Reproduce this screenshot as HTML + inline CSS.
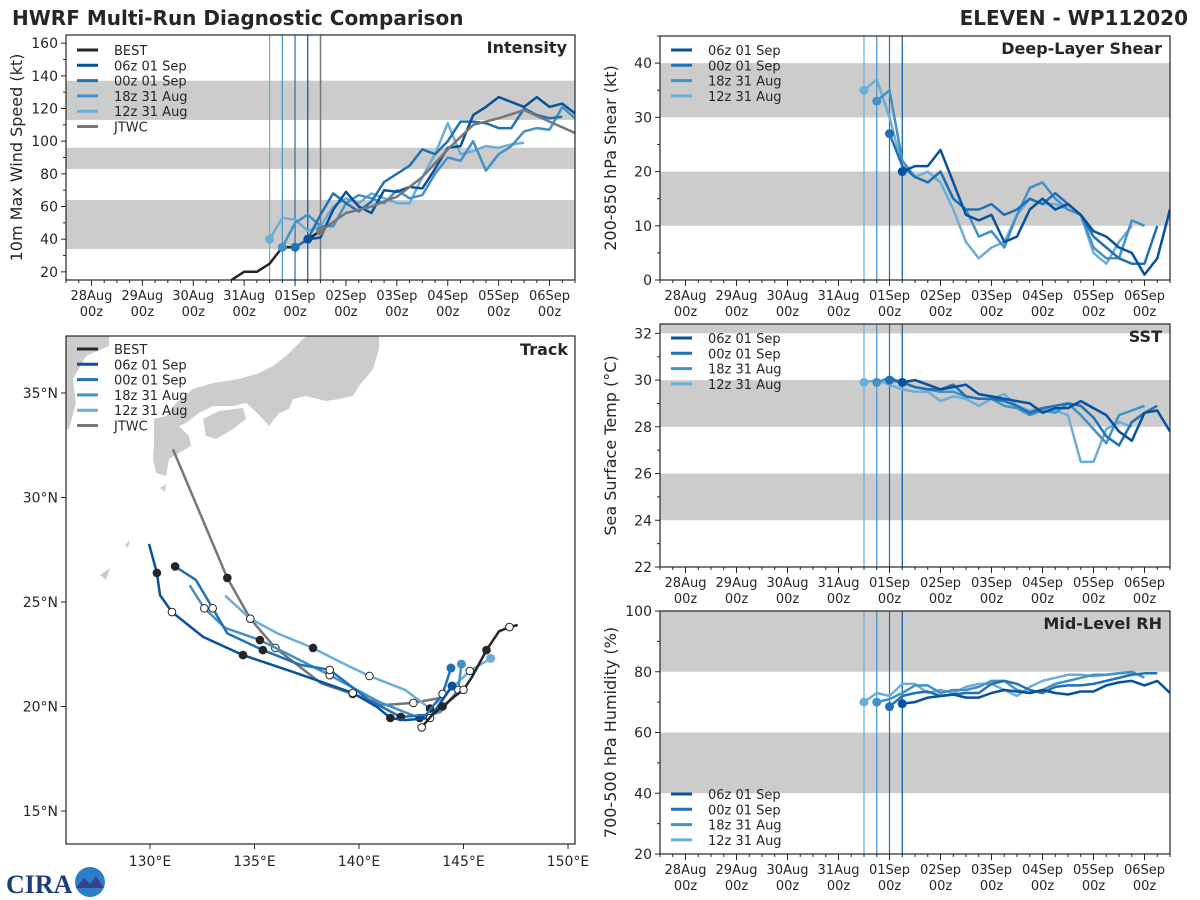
<!DOCTYPE html>
<html><head><meta charset="utf-8"><style>
body{margin:0;background:#fff;}
svg{display:block;font-family:"DejaVu Sans","Liberation Sans",sans-serif;}
</style></head><body>
<svg id="c" width="1200" height="900" viewBox="0 0 1200 900">
<text x="12" y="25" font-size="20" font-weight="bold" fill="#262626">HWRF Multi-Run Diagnostic Comparison</text>
<text x="1188" y="25" font-size="20" font-weight="bold" fill="#262626" text-anchor="end">ELEVEN - WP112020</text>
<g>
<text x="6" y="893" font-size="26" font-weight="bold" fill="#1f3c7a" font-family="Liberation Serif,serif">CIRA</text>
<circle cx="90" cy="882" r="15" fill="#2a7fc8"/>
<path d="M76 888 L84 878 L90 884 L96 876 L104 888 Z" fill="#3a3f8a"/>
</g>
</svg>
<script>
const S='http://www.w3.org/2000/svg';
const svg=document.getElementById('c');
const runNames=['06z 01 Sep','00z 01 Sep','18z 31 Aug','12z 31 Aug'];
const runColors=['#08519c','#2171b5','#4292c6','#6baed6'];
const runStarts=[4.25,4.0,3.75,3.5];
const dayLabels=['28Aug','29Aug','30Aug','31Aug','01Sep','02Sep','03Sep','04Sep','05Sep','06Sep'];
// Intensity data (kt)
const bestDays=[2.75,3.0,3.25,3.5,3.75,4.0,4.25,4.5];
const bestVmax=[15,20,20,25,35,35,40,45];
const jtwcDays=[4.5,5.0,5.5,6.0,6.5,7.0,7.5,8.0,8.5,9.0,9.5];
const jtwcVmax=[45,56,60,66,78,95,110,114,119,112,105];
const vmax06=[40,41,58,69,60,56,70,69,72,71,83,96,97,116,121,127,124,121,127,121,123,117];
const vmax00=[35,40,55,68,62,57,63,75,80,85,95,92,100,112,112,111,108,108,120,116,114,115];
const vmax18=[35,50,55,48,48,62,67,65,62,70,65,67,80,90,88,100,82,92,97,106,108,107,121,114];
const vmax12=[40,53,52,45,48,60,65,62,68,65,62,62,78,92,111,92,94,97,96,98,99];
// Shear (kt)
const shear06=[20,21,21,24,18,12,11,12,7,8,13,15,13,14,12,9,8,6,5,1,4,13];
const shear00=[27,21,19,18,20,15,13,13,14,12,13,15,14,16,14,12,8,6,4,3,3,10];
const shear18=[33,35,22,19,18,20,15,13,8,9,6,12,17,18,15,13,12,6,4,4,11,10];
const shear12=[35,37,30,21,19,20,18,13,7,4,6,7,12,15,14,14,13,12,5,3,7,10];
// SST (C)
const sst06=[29.9,30.0,29.8,29.6,29.7,29.8,29.4,29.3,29.2,29.1,29.0,28.6,28.8,28.8,29.1,28.8,28.5,27.8,27.4,28.6,28.7,27.8];
const sst00=[30.0,29.9,29.7,29.6,29.6,29.8,29.3,29.2,29.2,29.1,28.9,28.6,28.8,28.9,29.0,28.9,28.4,27.6,27.2,28.2,28.6,28.9];
const sst18=[29.9,30.1,29.9,29.7,29.6,29.5,29.5,29.3,29.2,29.2,28.9,28.8,28.5,28.7,28.6,29.0,28.5,27.9,27.3,28.5,28.7,28.9];
const sst12=[29.9,30.0,29.8,29.6,29.5,29.5,29.1,29.3,29.2,28.9,29.2,29.4,28.9,28.7,28.8,28.7,28.5,26.5,26.5,27.9,28.2,28.0];
// RH (%)
const rh06=[69.5,70,71.5,72,72.5,71.5,71.5,73,74,73.5,73,74,73,72.5,73.5,73.5,75.5,76.5,77,75.5,77,73];
const rh00=[68.5,72,73,73.5,72,72.5,73,73,76,77,76,74,73,75,75.5,75.5,76,77,78,79,79.5,79.5];
const rh18=[70,71,73,75.5,75.5,73,74,74,75,77,77,74,73,74,76,77,78,79,79,79.5,80,78];
const rh12=[70,73,72,76,76,73,74,73,75,76,76,74,72,75,77,78,79,79,78.5,79,79.5,79.5];
// Tracks (lon, lat)
const bestLon=[147.6,147.2,146.7,146.1,145.4,145.0,144.6,144.0,143.5,143.0];
const bestLat=[23.9,23.8,23.6,22.7,21.4,20.8,20.5,20.0,19.6,19.0];
const trk06Lon=[144.45,143.4,142.2,141.5,140.86,139.7,137.0,134.45,132.54,131.05,130.48,130.33,129.95];
const trk06Lat=[20.98,19.45,19.35,19.45,19.98,20.65,21.6,22.46,23.33,24.52,25.33,26.39,27.78];
const trk00Lon=[144.4,144.0,143.2,142.0,140.5,138.6,137.2,135.4,133.7,133.0,132.2,131.2];
const trk00Lat=[21.84,20.6,19.6,19.5,20.3,21.75,21.99,22.7,23.5,24.7,26.05,26.7];
const trk18Lon=[144.9,144.75,143.9,142.9,141.0,138.6,136.7,135.26,133.6,132.6,131.9];
const trk18Lat=[22.03,20.8,19.74,19.45,20.2,21.5,22.46,23.18,23.76,24.7,25.8];
const trk12Lon=[146.3,145.3,144.35,143.4,142.2,140.5,139.2,137.8,136.1,134.8,133.6];
const trk12Lat=[22.3,21.7,20.79,19.9,20.8,21.46,22.08,22.8,23.5,24.2,25.3];
const jtwcLon=[144.1,142.6,141.2,139.7,138.2,136.0,134.8,133.7,131.1];
const jtwcLat=[20.45,20.17,20.07,20.6,21.1,22.8,24.2,26.15,32.3];

function el(t,a,p){const e=document.createElementNS(S,t);for(const k in a)e.setAttribute(k,a[k]);(p||svg).appendChild(e);return e;}
function txt(x,y,s,a,p){const e=el('text',Object.assign({x:x,y:y,'font-size':13,fill:'#262626'},a||{}),p);e.textContent=s;return e;}

function panel(o){
  const g=el('g',{});
  
  
  const X=d=>o.x0+(d-(-0.5))/10*(o.x1-o.x0);
  const Y=v=>o.y1-(v-o.vmin)/(o.vmax-o.vmin)*(o.y1-o.y0);
  o.bands.forEach(b=>{const r=el('rect',{x:o.x0,y:Y(Math.min(b[1],o.vmax)),width:o.x1-o.x0,height:Y(b[0])-Y(Math.min(b[1],o.vmax)),fill:'#cccccc'},g);
    });
  for(let v=o.tmin;v<=o.vmax+1e-6;v+=o.tstep){const y=Y(v);el('line',{x1:o.x0-5,x2:o.x0,y1:y,y2:y,stroke:'#262626'},g);
    const t=txt(o.x0-8,y+5,String(v),{'text-anchor':'end','font-size':14},g);}
  for(let v=o.tmin-o.tstep/2;v<=o.vmax;v+=o.tstep){if(v<o.vmin)continue;const y=Y(v);el('line',{x1:o.x0-3,x2:o.x0,y1:y,y2:y,stroke:'#262626'},g);}
  for(let d=-0.5;d<=9.5;d+=0.25){const x=X(d);const maj=Math.abs(d-Math.round(d))<1e-6;el('line',{x1:x,x2:x,y1:o.y1,y2:o.y1+(maj?6:3),stroke:'#262626'},g);}
  dayLabels.forEach((l,i)=>{const x=X(i);const t=txt(x,o.y1+20,l,{'text-anchor':'middle'},g);
    txt(x,o.y1+36,'00z',{'text-anchor':'middle'},g);});
  const yl=txt(0,0,o.ylabel,{'font-size':16,'text-anchor':'middle',transform:`translate(${o.x0-44},${(o.y0+o.y1)/2}) rotate(-90)`},g);
  
  runStarts.forEach((s,i)=>{const l=el('line',{x1:X(s),x2:X(s),y1:o.y0,y2:o.y1,stroke:runColors[i],'stroke-width':1.2},g);});
  if(o.jtwcLine){el('line',{x1:X(4.5),x2:X(4.5),y1:o.y0,y2:o.y1,stroke:'#777','stroke-width':1.5},g);}
  const clip='clip'+o.name;const cp=el('clipPath',{id:clip},g);el('rect',{x:o.x0,y:o.y0,width:o.x1-o.x0,height:o.y1-o.y0},cp);
  const lg=el('g',{'clip-path':`url(#${clip})`},g);
  function series(days,vals,col,nm,dot){const pts=vals.map((v,i)=>X(days[i]).toFixed(1)+','+Y(v).toFixed(1)).join(' ');
    const p=el('polyline',{points:pts,fill:'none',stroke:col,'stroke-width':2.5,'stroke-linejoin':'round'},lg);
    
    if(dot){el('circle',{cx:X(days[0]),cy:Y(vals[0]),r:4.5,fill:col},lg);}}
  if(o.best){series(bestDays,bestVmax,'#262626','best-line',false);}
  o.runs.slice().reverse().forEach((vals,ri)=>{const i=3-ri;series(vals.map((_,k)=>runStarts[i]+k*0.25),vals,runColors[i],'run-'+runNames[i].replace(/ /g,'-').toLowerCase(),true);});
  if(o.jtwc){series(jtwcDays,jtwcVmax,'#777777','jtwc-line',true);}
  el('rect',{x:o.x0,y:o.y0,width:o.x1-o.x0,height:o.y1-o.y0,fill:'none',stroke:'#262626','stroke-width':1.2},g);
  const tt=txt(o.x1-8,o.y0+18,o.title,{'text-anchor':'end','font-size':16,'font-weight':'bold'},g);
  legend(g,o.x0+10,o.legY,o.best?['BEST'].concat(runNames,['JTWC']):runNames,o.best?['#262626'].concat(runColors,['#777']):runColors);
}
function legend(g,x,y,names,cols){const lgd=el('g',{},g);
  names.forEach((n,i)=>{const yy=y+i*15.3;el('line',{x1:x+1,x2:x+22,y1:yy,y2:yy,stroke:cols[i],'stroke-width':3},lgd);
    const t=txt(x+38,yy+5,n,{},lgd);});}

panel({name:'intensity',x0:66,x1:575,y0:35,y1:280,vmin:15,vmax:165,tmin:20,tstep:20,bands:[[34,64],[83,96],[113,137]],ylabel:'10m Max Wind Speed (kt)',title:'Intensity',runs:[vmax06,vmax00,vmax18,vmax12],best:true,jtwc:true,jtwcLine:true,legY:50});
panel({name:'shear',x0:660,x1:1170,y0:36,y1:280,vmin:0,vmax:45,tmin:0,tstep:10,bands:[[10,20],[30,40]],ylabel:'200-850 hPa Shear (kt)',title:'Deep-Layer Shear',runs:[shear06,shear00,shear18,shear12],legY:50});
panel({name:'sst',x0:660,x1:1170,y0:324,y1:567,vmin:22,vmax:32.4,tmin:22,tstep:2,bands:[[24,26],[28,30],[32,33]],ylabel:'Sea Surface Temp (°C)',title:'SST',runs:[sst06,sst00,sst18,sst12],legY:338});
panel({name:'rh',x0:660,x1:1170,y0:611,y1:854,vmin:20,vmax:100,tmin:20,tstep:20,bands:[[40,60],[80,100]],ylabel:'700-500 hPa Humidity (%)',title:'Mid-Level RH',runs:[rh06,rh00,rh18,rh12],legY:794});

// Track panel
(function(){
  const g=el('g',{});
  const x0=66,x1=575,y0=336,y1=844;
  const LX=l=>150+(l-130)*20.9, LY=l=>393+(35-l)*20.9;
  const cp=el('clipPath',{id:'cliptrk'},g);el('rect',{x:x0,y:y0,width:x1-x0,height:y1-y0},cp);
  const m=el('g',{'clip-path':'url(#cliptrk)'},g);
  const land=[
   '66,336 109,336 109,346 86,356 73,379 76,403 69,429 66,429',
   '154,419 166,416 179,426 189,436 191,446 179,453 169,459 166,476 156,473 153,459 154,443',
   '166,416 176,403 193,389 213,383 239,379 259,373 273,366 286,356 299,343 306,336 379,336 379,349 373,369 359,386 353,396 339,399 326,401 306,396 293,399 289,409 279,413 269,426 263,419 253,409 246,403 233,406 213,406 199,413 186,423 173,429',
   '203,419 219,411 243,408 246,419 233,429 216,439 206,436',
   '160,488 166,484 165,492',
   '100,575 110,568 106,580','125,545 130,540 128,548'];
  land.forEach(p=>{const l=el('polygon',{points:p,fill:'#cccccc'},m);});
  function trk(lon,lat,col,nm,startDot){const pts=lon.map((v,i)=>LX(v).toFixed(1)+','+LY(lat[i]).toFixed(1)).join(' ');
    const p=el('polyline',{points:pts,fill:'none',stroke:col,'stroke-width':2.5,'stroke-linejoin':'round'},m);
    lon.forEach((v,i)=>{if(i===0&&startDot){el('circle',{cx:LX(v),cy:LY(lat[i]),r:4.5,fill:col},m);return;}
      if(i%2===1){const c=el('circle',{cx:LX(v),cy:LY(lat[i]),r:3.8,fill:(i%4===1)?'#fff':'#262626',stroke:'#262626','stroke-width':1},m);}});}
  trk(jtwcLon,jtwcLat,'#777777','jtwc-track',false);
  trk(trk12Lon,trk12Lat,runColors[3],'track-12z-31-aug',true);
  trk(trk18Lon,trk18Lat,runColors[2],'track-18z-31-aug',true);
  trk(trk00Lon,trk00Lat,runColors[1],'track-00z-01-sep',true);
  trk(trk06Lon,trk06Lat,runColors[0],'track-06z-01-sep',true);
  trk(bestLon,bestLat,'#262626','best-track',false);
  el('rect',{x:x0,y:y0,width:x1-x0,height:y1-y0,fill:'none',stroke:'#262626','stroke-width':1.2},g);
  [130,135,140,145,150].forEach(l=>{const x=LX(l);el('line',{x1:x,x2:x,y1:y1,y2:y1+5,stroke:'#262626'},g);
    const t=txt(x,y1+22,l+'°E',{'text-anchor':'middle','font-size':14},g);});
  [15,20,25,30,35].forEach(l=>{const y=LY(l);el('line',{x1:x0-5,x2:x0,y1:y,y2:y,stroke:'#262626'},g);
    const t=txt(x0-8,y+5,l+'°N',{'text-anchor':'end','font-size':14},g);});
  const tt=txt(x1-7,y0+19,'Track',{'text-anchor':'end','font-size':16,'font-weight':'bold'},g);
  legend(g,x0+10,349,['BEST'].concat(runNames,['JTWC']),['#262626'].concat(runColors,['#777']));
})();
</script>
</body></html>
